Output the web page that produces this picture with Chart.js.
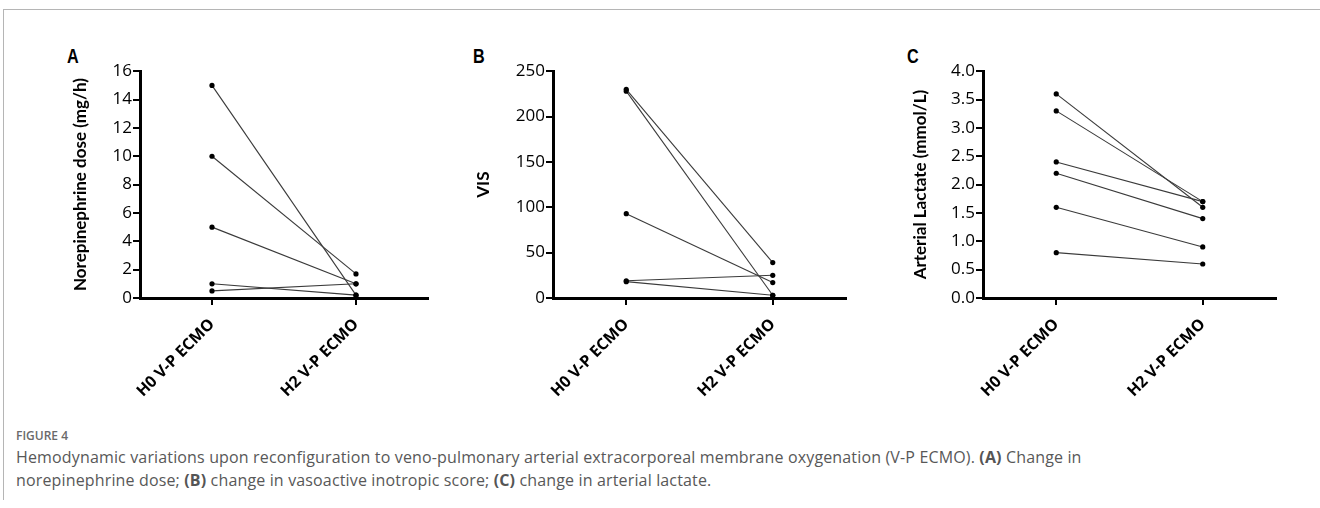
<!DOCTYPE html>
<html>
<head>
<meta charset="utf-8">
<script src="https://cdn.jsdelivr.net/npm/chart.js@4.4.1/dist/chart.umd.min.js"></script>
<style>
  html, body { margin: 0; padding: 0; background: #fff; }
  body { width: 1320px; height: 508px; position: relative; overflow: hidden; }
  .frame { position: absolute; left: 3px; top: 9px; width: 1330px; height: 490px; border-top: 1px solid #b5b5b5; border-left: 1px solid #b5b5b5; }
  .pane { position: absolute; top: 60px; }
  .letter { position: absolute; top: 45px; font: bold 18px "Liberation Sans", Arial, sans-serif; color: #000; transform: scaleX(0.9) scaleY(1.1); transform-origin: left top; }
  .fig { position: absolute; left: 16px; top: 427px; font: 600 12px "Open Sans", sans-serif; color: #6a6a6a; }
  .cap { position: absolute; left: 16px; top: 446px; font: 16px/23px "Open Sans", sans-serif; color: #585858; letter-spacing: 0.15px; }
  .cap b { font-weight: 700; color: #555; }
</style>
</head>
<body>
<div class="frame"></div>
<div class="letter" style="left:67px">A</div>
<div class="letter" style="left:473px">B</div>
<div class="letter" style="left:907px">C</div>
<div class="pane" style="left:40px"><canvas id="cA" width="400" height="340"></canvas></div>
<div class="pane" style="left:430px"><canvas id="cB" width="420" height="340"></canvas></div>
<div class="pane" style="left:840px"><canvas id="cC" width="440" height="340"></canvas></div>
<div class="fig">FIGURE 4</div>
<div class="cap">Hemodynamic variations upon reconfiguration to veno-pulmonary arterial extracorporeal membrane oxygenation (V-P ECMO). <b>(A)</b> Change in<br>norepinephrine dose; <b>(B)</b> change in vasoactive inotropic score; <b>(C)</b> change in arterial lactate.</div>
<script>
// ── Data ──
const categories = ['H0 V-P ECMO', 'H2 V-P ECMO'];
const xPos = [1, 3];

const noreH0 = [15, 10, 5, 1, 0.5];
const noreH2 = [0.2, 1.7, 1.0, 0.2, 1.0];

const visH0 = [230, 228, 93, 19, 18];
const visH2 = [39, 3, 17, 25, 3];

const lacH0 = [3.6, 3.3, 2.4, 2.2, 1.6, 0.8];
const lacH2 = [1.6, 1.7, 1.7, 1.4, 0.9, 0.6];

// ── Helpers ──
const FONT = '"Open Sans", sans-serif';
const TITLE_FONT = 'Lato, "Open Sans", sans-serif';

function pairSets(h0, h2) {
  return h0.map((v, i) => ({
    data: [{ x: xPos[0], y: v }, { x: xPos[1], y: h2[i] }],
    borderColor: '#3a3a3a', borderWidth: 1.1,
    pointRadius: 2.6, pointBackgroundColor: '#000', pointBorderColor: '#000', pointBorderWidth: 0,
    clip: false
  }));
}

function axisLook() {
  return {
    grid: { drawOnChartArea: false, drawTicks: true, tickLength: 7, color: '#000', lineWidth: 2 },
    border: { color: '#000', width: 3 }
  };
}

function panel(id, h0, h2, yMax, step, fmt, title, padLeft, axisW, padRight) {
  return new Chart(document.getElementById(id).getContext('2d'), {
    type: 'line',
    data: { datasets: pairSets(h0, h2) },
    options: {
      responsive: false, animation: false, devicePixelRatio: 1,
      layout: { padding: { left: padLeft, top: 10, right: padRight, bottom: 0 } },
      plugins: { legend: { display: false }, tooltip: { enabled: false } },
      scales: {
        x: {
          type: 'linear', min: 0, max: 4, ...axisLook(),
          afterBuildTicks: s => { s.ticks = xPos.map(v => ({ value: v })); },
          afterFit: s => { s.height = 102; },
          ticks: {
            autoSkip: false, minRotation: 45, maxRotation: 45, padding: 10, color: '#000',
            font: { family: FONT, size: 16, weight: 'bold' },
            callback: v => categories[xPos.indexOf(v)]
          }
        },
        y: {
          min: 0, max: yMax, ...axisLook(),
          afterFit: s => { s.width = axisW; },
          ticks: { stepSize: step, padding: 1, color: '#000', font: { family: FONT, size: 17 }, callback: fmt },
          title: { display: true, text: title, color: '#000', font: { family: TITLE_FONT, size: 17, weight: 'bold' }, padding: 0 }
        }
      }
    }
  });
}

panel('cA', noreH0, noreH2, 16, 2, v => v, 'Norepinephrine dose (mg/h)', 30, 70, 12);
panel('cB', visH0, visH2, 250, 50, v => v, 'VIS', 43, 80, 0);
panel('cC', lacH0, lacH2, 4, 0.5, v => v.toFixed(1), 'Arterial Lactate (mmol/L)', 70, 73, 0);
</script>
</body>
</html>
